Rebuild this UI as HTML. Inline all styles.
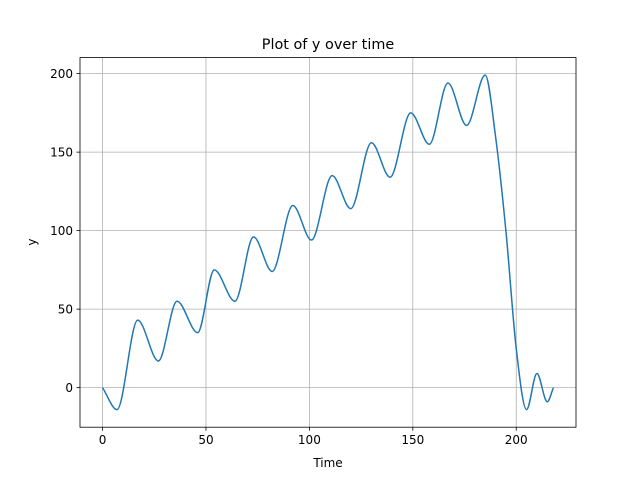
<!DOCTYPE html>
<html><head><meta charset="utf-8"><style>
body{margin:0;background:#fff}
svg{display:block;font-family:"DejaVu Sans","Liberation Sans",sans-serif}
</style></head><body>
<svg id="chart" width="640" height="480" viewBox="0 0 640 480">
<rect width="640" height="480" fill="#fff"/>
<g id="grid"></g>
<g id="ticks"></g>
<path id="line" fill="none" stroke="#1f77b4" stroke-width="1.5"/>
<rect x="80" y="57.6" width="496" height="369.6" fill="none" stroke="#000" stroke-width="0.8"/>
<text x="328" y="49" text-anchor="middle" font-size="14.4">Plot of y over time</text>
<text x="328" y="467" text-anchor="middle" font-size="12">Time</text>
<text x="36" y="242" text-anchor="middle" font-size="12" transform="rotate(-90 36 242)">y</text>
</svg>
<script>
const times=[0,7,17,27,36,46,54,64,73,82,92,101,111,120,130,139,149,158,167,176,185,190,195,200,205,210,215,218];
const values=[0,-14,43,17,55,35,75,55,96,74,116,94,135,114,156,134,175,155,194,167,199,160,100,25,-14,9,-9,0];
const xTicks=[0,50,100,150,200];
const yTicks=[0,50,100,150,200];
const X0=80,X1=576,Y0=427.2,Y1=57.6,xmin=-10.9,xmax=228.9,ymin=-25.2,ymax=210.2;
function sx(v){return X0+(v-xmin)/(xmax-xmin)*(X1-X0);}
function sy(v){return Y0-(v-ymin)/(ymax-ymin)*(Y0-Y1);}
const NS="http://www.w3.org/2000/svg";
const grid=document.getElementById('grid'),ticks=document.getElementById('ticks');
function mk(tag,attrs,parent){const e=document.createElementNS(NS,tag);for(const k in attrs)e.setAttribute(k,attrs[k]);parent.appendChild(e);return e;}
xTicks.forEach(t=>{const x=sx(t);
 const g=mk('line',{x1:x,x2:x,y1:Y1,y2:Y0,stroke:'#b0b0b0','stroke-width':0.8},grid);
 
 
 const tk=mk('line',{x1:x,x2:x,y1:Y0,y2:Y0+3.5,stroke:'#000','stroke-width':0.8},ticks);
 
 
 const lb=mk('text',{x:x,y:Y0+17,'text-anchor':'middle','font-size':12},ticks);lb.textContent=t;
 
 });
yTicks.forEach(t=>{const y=sy(t);
 const g=mk('line',{x1:X0,x2:X1,y1:y,y2:y,stroke:'#b0b0b0','stroke-width':0.8},grid);
 
 
 const tk=mk('line',{x1:X0-3.5,x2:X0,y1:y,y2:y,stroke:'#000','stroke-width':0.8},ticks);
 
 
 const lb=mk('text',{x:X0-7,y:y+4.5,'text-anchor':'end','font-size':12},ticks);lb.textContent=t;
 
 });
// monotone cubic interpolation
const n=times.length,d=[],m=[];
for(let i=0;i<n-1;i++)d.push((values[i+1]-values[i])/(times[i+1]-times[i]));
m[0]=d[0];m[n-1]=d[n-2];
for(let i=1;i<n-1;i++){m[i]=(d[i-1]*d[i]<=0)?0:(d[i-1]+d[i])/2;}
for(let i=0;i<n-1;i++){if(d[i]===0){m[i]=m[i+1]=0;continue;}const a=m[i]/d[i],b=m[i+1]/d[i],s=a*a+b*b;if(s>9){const t=3/Math.sqrt(s);m[i]=t*a*d[i];m[i+1]=t*b*d[i];}}
let p='M'+sx(times[0])+','+sy(values[0]);
for(let i=0;i<n-1;i++){const h=times[i+1]-times[i];
 p+=' C'+sx(times[i]+h/3)+','+sy(values[i]+m[i]*h/3)+' '+sx(times[i+1]-h/3)+','+sy(values[i+1]-m[i+1]*h/3)+' '+sx(times[i+1])+','+sy(values[i+1]);}
document.getElementById('line').setAttribute('d',p);
</script>
</body></html>
